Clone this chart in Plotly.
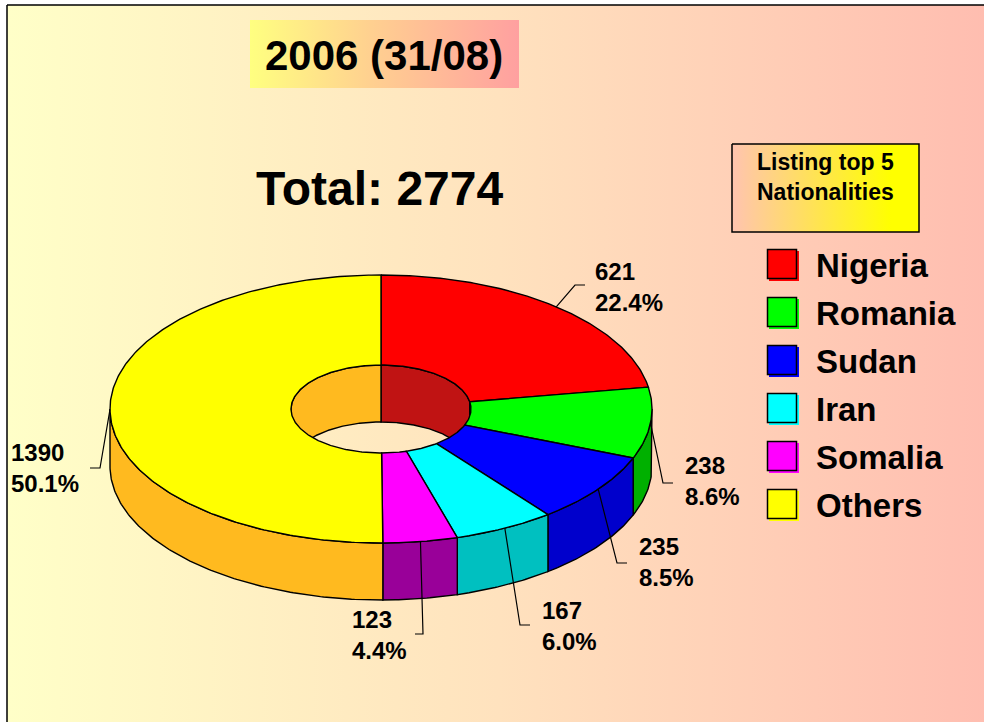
import numpy as np
import plotly.graph_objects as go

# ---------------- data ----------------
countries = ["Nigeria", "Romania", "Sudan", "Iran", "Somalia", "Others"]
counts = [621, 238, 235, 167, 123, 1390]
title_text = "2006 (31/08)"
legend_title = "Listing top 5<br>Nationalities"

# ---------------- styles ----------------
top_colors = ["#FF0000", "#00FF00", "#0000FF", "#00FFFF", "#FF00FF", "#FFFF00"]
side_colors = ["#C01313", "#00B000", "#0000CC", "#00C0C0", "#990099", "#FFBA1F"]
FONT = "Liberation Sans, Arial, sans-serif"

W, H = 984, 722
CX, CY = 381, 409          # centre of top ellipse (pixels)
RX, RY = 271, 134          # outer radii
IRX, IRY = 90, 44          # hole radii
DEPTH = 57                 # thickness of the donut

# label anchor positions (left edge, vertical centre of two-line block)
label_pos = [(593, 287), (683, 481), (637, 562), (540, 626), (350, 635), (9, 468)]
# elbow of leader lines and end of horizontal tick
leader_elbow = [(575, 285, 585), (663, 483, 673), (617, 563, 627), (520, 625, 530),
                (423, 634, 415), (100, 468, 90)]

total = sum(counts)
pcts = [100.0 * c / total for c in counts]


def arc(a, b, rx, ry, dy=0.0):
    n = max(2, int(abs(b - a) * 1.5) + 2)
    t = np.radians(np.linspace(a, b, n))
    return list(CX + rx * np.cos(t)), list(CY - ry * np.sin(t) + dy)


def intersect(lo, hi, flo, fhi):
    out = []
    for k in (-720, -360, 0, 360, 720):
        l2, h2 = max(lo, flo + k), min(hi, fhi + k)
        if h2 > l2 + 1e-9:
            out.append((l2, h2))
    return out


# slice angles: start at 12 o'clock, clockwise
angles = []
a = 90.0
for c in counts:
    b = a - 360.0 * c / total
    angles.append((a, b))
    a = b

fig = go.Figure()
LINE = dict(color="black", width=1.4)

# background panel with horizontal gradient and frame
fig.add_trace(go.Scatter(
    x=[7, W + 5, W + 5, 7, 7], y=[5, 5, H + 5, H + 5, 5], mode="lines",
    fill="toself", line=dict(color="black", width=1.5),
    fillgradient=dict(type="horizontal",
                      colorscale=[[0, "#FFFFC8"], [0.5, "#FFE2BE"], [1, "#FFBDB0"]]),
    hoverinfo="skip", showlegend=False))

# title box
fig.add_trace(go.Scatter(
    x=[250, 519, 519, 250, 250], y=[20, 20, 88, 88, 20], mode="lines",
    fill="toself", line=dict(width=0, color="rgba(0,0,0,0)"),
    fillgradient=dict(type="horizontal",
                      colorscale=[[0, "#FFFF80"], [0.45, "#FFD090"], [1, "#FFA0A0"]]),
    hoverinfo="skip", showlegend=False))

# legend title box
fig.add_trace(go.Scatter(
    x=[732, 919, 919, 732, 732], y=[144, 144, 232, 232, 144], mode="lines",
    fill="toself", line=dict(width=1.5, color="black"),
    fillgradient=dict(type="horizontal",
                      colorscale=[[0, "#FFC4B0"], [0.85, "#FFFF00"], [1, "#FFFF00"]]),
    hoverinfo="skip", showlegend=False))

# inner back wall of the hole (visible for the far half: 0..180 deg)
for i, (a1, a2) in enumerate(angles):
    for lo, hi in intersect(a2, a1, 0, 180):
        x1, y1 = arc(lo, hi, IRX, IRY)
        x2, y2 = arc(hi, lo, IRX, IRY, DEPTH)
        fig.add_trace(go.Scatter(x=x1 + x2 + [x1[0]], y=y1 + y2 + [y1[0]], mode="lines",
                                 fill="toself", fillcolor=side_colors[i], line=LINE,
                                 hoverinfo="skip", showlegend=False))

# outer side wall (visible for the near half: 180..360 deg)
for i, (a1, a2) in enumerate(angles):
    for lo, hi in intersect(a2, a1, 180, 360):
        x1, y1 = arc(lo, hi, RX, RY)
        x2, y2 = arc(hi, lo, RX, RY, DEPTH)
        fig.add_trace(go.Scatter(x=x1 + x2 + [x1[0]], y=y1 + y2 + [y1[0]], mode="lines",
                                 fill="toself", fillcolor=side_colors[i], line=LINE,
                                 hoverinfo="skip", showlegend=False))

# top faces
for i, (a1, a2) in enumerate(angles):
    x1, y1 = arc(a1, a2, RX, RY)
    x2, y2 = arc(a2, a1, IRX, IRY)
    fig.add_trace(go.Scatter(x=x1 + x2 + [x1[0]], y=y1 + y2 + [y1[0]], mode="lines",
                             fill="toself", fillcolor=top_colors[i], line=LINE,
                             name=countries[i], hovertext=f"{countries[i]}: {counts[i]}",
                             hoverinfo="text", showlegend=False))

# leader lines and labels
for i, (a1, a2) in enumerate(angles):
    mid = np.radians((a1 + a2) / 2.0)
    sx, sy = CX + RX * np.cos(mid), CY - RY * np.sin(mid)
    ex, ey, tx = leader_elbow[i]
    fig.add_trace(go.Scatter(x=[sx, ex, tx], y=[sy, ey, ey], mode="lines",
                             line=dict(color="black", width=1.2),
                             hoverinfo="skip", showlegend=False))
    lx, ly = label_pos[i]
    fig.add_annotation(x=lx, y=ly, xref="x", yref="y", xanchor="left", yanchor="middle",
                       align="left", showarrow=False,
                       text=f"{counts[i]}<br>{pcts[i]:.1f}%",
                       font=dict(family=FONT, size=24, color="black", weight="bold"))

# legend (manual: large squares + text)
leg_x, leg_y0, leg_dy = 782, 264, 48
leg_ys = [leg_y0 + k * leg_dy for k in range(len(countries))]
for i, name in enumerate(countries):
    fig.add_trace(go.Scatter(x=[leg_x + 2], y=[leg_ys[i] + 2], mode="markers",
                             marker=dict(symbol="square", size=30, color=top_colors[i],
                                         line=dict(width=0)),
                             hoverinfo="skip", showlegend=False))
    fig.add_trace(go.Scatter(x=[leg_x], y=[leg_ys[i]], mode="markers",
                             marker=dict(symbol="square", size=29, color=top_colors[i],
                                         line=dict(color="black", width=1.5)),
                             name=name, hoverinfo="name", showlegend=False))
    fig.add_annotation(x=814, y=leg_ys[i] + 1, xref="x", yref="y", xanchor="left",
                       yanchor="middle", showarrow=False, text=name,
                       font=dict(family=FONT, size=33, color="black", weight="bold"))

# titles
fig.add_annotation(x=384, y=55, xref="x", yref="y", showarrow=False, text=title_text,
                   font=dict(family=FONT, size=42, color="black", weight="bold"))
fig.add_annotation(x=380, y=188, xref="x", yref="y", showarrow=False,
                   text=f"Total: {total}",
                   font=dict(family=FONT, size=48, color="black", weight="bold"))
fig.add_annotation(x=825, y=177, xref="x", yref="y", showarrow=False, text=legend_title,
                   font=dict(family=FONT, size=23, color="black", weight="bold"))

fig.update_layout(
    width=W, height=H, margin=dict(l=0, r=0, t=0, b=0),
    paper_bgcolor="white", plot_bgcolor="white",
    xaxis=dict(range=[0, W], visible=False, fixedrange=True),
    yaxis=dict(range=[H, 0], visible=False, fixedrange=True),
    showlegend=False,
)

fig.write_html("out.html",
               config={"displayModeBar": False},
               post_script="document.body.style.margin='0';"
                           "document.body.style.overflow='hidden';")
